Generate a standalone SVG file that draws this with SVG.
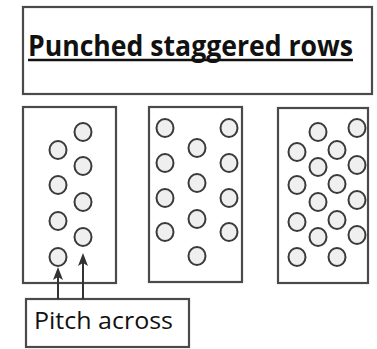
<svg xmlns="http://www.w3.org/2000/svg" width="377" height="349" viewBox="0 0 377 349">
<defs>
<style>
.box{fill:#fff;stroke:#4a4a4a;stroke-width:2.2}
.hole{fill:#efefef;stroke:#3a3a3a;stroke-width:2}
.conn{stroke:#333;stroke-width:2;fill:none}
.head{fill:#333;stroke:none}
.t{font-family:"Open Sans","Liberation Sans",sans-serif;fill:#111}
</style>
</defs>
<rect width="377" height="349" fill="#fff"/>
<g id="title">
<rect class="box" x="23" y="7" width="349" height="87"/>
<text class="t" x="28" y="56" font-size="28" font-weight="bold" textLength="325" lengthAdjust="spacingAndGlyphs">Punched staggered rows</text>
<line x1="28" y1="60" x2="353" y2="60" stroke="#111" stroke-width="2.5"/>
</g>
<g id="panel1">
<rect class="box" x="23" y="107" width="93" height="176"/>
<ellipse class="hole" cx="83" cy="132" rx="8.5" ry="9"/>
<ellipse class="hole" cx="83" cy="166" rx="8.5" ry="9"/>
<ellipse class="hole" cx="83" cy="202" rx="8.5" ry="9"/>
<ellipse class="hole" cx="83" cy="237" rx="8.5" ry="9"/>
<ellipse class="hole" cx="58" cy="150" rx="8.5" ry="9"/>
<ellipse class="hole" cx="58" cy="185" rx="8.5" ry="9"/>
<ellipse class="hole" cx="58" cy="221" rx="8.5" ry="9"/>
<ellipse class="hole" cx="58" cy="257" rx="8.5" ry="9"/>
</g>
<g id="panel2">
<rect class="box" x="149" y="107" width="93" height="175"/>
<ellipse class="hole" cx="165" cy="128" rx="8.5" ry="9"/>
<ellipse class="hole" cx="165" cy="163" rx="8.5" ry="9"/>
<ellipse class="hole" cx="165" cy="198" rx="8.5" ry="9"/>
<ellipse class="hole" cx="165" cy="232" rx="8.5" ry="9"/>
<ellipse class="hole" cx="197" cy="148" rx="8.5" ry="9"/>
<ellipse class="hole" cx="197" cy="183" rx="8.5" ry="9"/>
<ellipse class="hole" cx="197" cy="219" rx="8.5" ry="9"/>
<ellipse class="hole" cx="197" cy="256" rx="8.5" ry="9"/>
<ellipse class="hole" cx="229" cy="128" rx="8.5" ry="9"/>
<ellipse class="hole" cx="229" cy="163" rx="8.5" ry="9"/>
<ellipse class="hole" cx="229" cy="198" rx="8.5" ry="9"/>
<ellipse class="hole" cx="229" cy="232" rx="8.5" ry="9"/>
</g>
<g id="panel3">
<rect class="box" x="278" y="108" width="90" height="175"/>
<ellipse class="hole" cx="297" cy="152" rx="8.5" ry="9"/>
<ellipse class="hole" cx="297" cy="185" rx="8.5" ry="9"/>
<ellipse class="hole" cx="297" cy="222" rx="8.5" ry="9"/>
<ellipse class="hole" cx="297" cy="257" rx="8.5" ry="9"/>
<ellipse class="hole" cx="318" cy="132" rx="8.5" ry="9"/>
<ellipse class="hole" cx="318" cy="167" rx="8.5" ry="9"/>
<ellipse class="hole" cx="318" cy="202" rx="8.5" ry="9"/>
<ellipse class="hole" cx="318" cy="237" rx="8.5" ry="9"/>
<ellipse class="hole" cx="337" cy="150" rx="8.5" ry="9"/>
<ellipse class="hole" cx="337" cy="184" rx="8.5" ry="9"/>
<ellipse class="hole" cx="337" cy="220" rx="8.5" ry="9"/>
<ellipse class="hole" cx="337" cy="257" rx="8.5" ry="9"/>
<ellipse class="hole" cx="357" cy="128" rx="8.5" ry="9"/>
<ellipse class="hole" cx="357" cy="165" rx="8.5" ry="9"/>
<ellipse class="hole" cx="357" cy="200" rx="8.5" ry="9"/>
<ellipse class="hole" cx="357" cy="235" rx="8.5" ry="9"/>
</g>
<g id="label">
<rect class="box" x="26" y="299" width="163" height="48"/>
<text class="t" x="34" y="329" font-size="23" textLength="139" lengthAdjust="spacingAndGlyphs">Pitch across</text>
</g>
<g id="connectors">
<line class="conn" x1="58" y1="299" x2="58" y2="276"/>
<path class="head" d="M58,267 L63,280 L58,277 L53,280 z"/>
<line class="conn" x1="83" y1="299" x2="83" y2="262"/>
<path class="head" d="M83,253 L88,266 L83,263 L78,266 z"/>
</g>
</svg>
